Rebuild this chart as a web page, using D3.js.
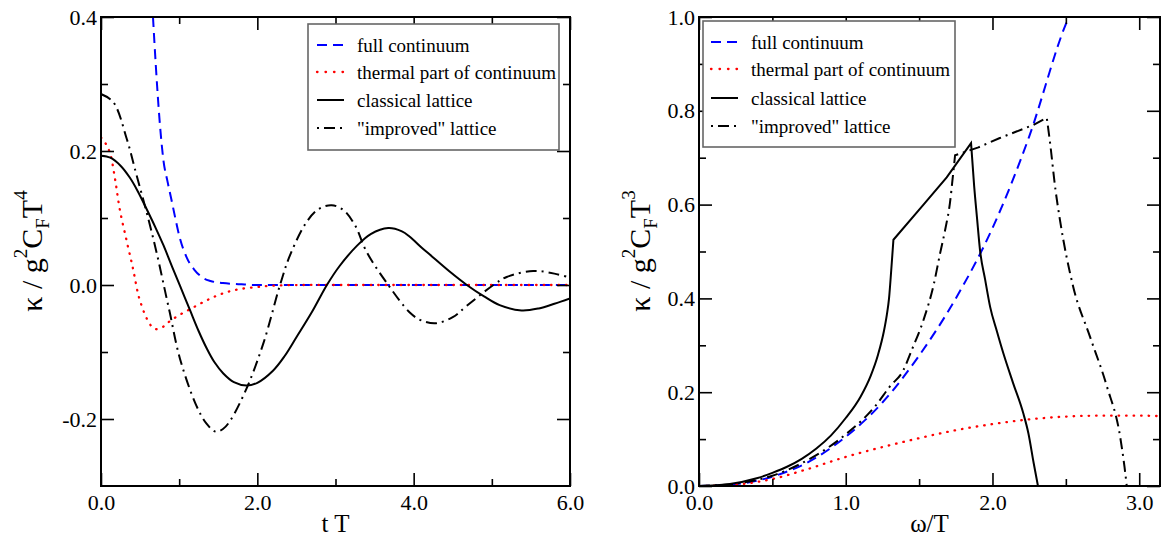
<!DOCTYPE html>
<html>
<head>
<meta charset="utf-8">
<script src="https://cdn.jsdelivr.net/npm/d3@7"></script>
<style>
  html, body { margin: 0; padding: 0; background: #fff; }
  svg { display: block; font-family: "Liberation Serif", "Times New Roman", serif; }
</style>
</head>
<body>
<svg id="chart" width="1162" height="536"></svg>
<script>
// ---------- Left panel: kappa(t) ----------
const leftFullT = [0.665, 0.70, 0.75, 0.80, 0.85, 0.90, 0.95, 1.0, 1.1, 1.2, 1.3, 1.4, 1.56, 1.8, 2.0, 2.5, 6.0];
const leftFullV = [0.40, 0.33, 0.245, 0.185, 0.155, 0.128, 0.10, 0.074, 0.04, 0.022, 0.011, 0.006, 0.003, 0.001, 0.0, 0.0, 0.0];

const leftThermT = [0, 0.05, 0.115, 0.18, 0.24, 0.33, 0.41, 0.47, 0.5, 0.585, 0.65, 0.71, 0.8, 0.88, 1.0, 1.14, 1.3, 1.44, 1.6, 1.78, 2.0, 2.2, 2.6, 3.0, 6.0];
const leftThermV = [0.22, 0.213, 0.197, 0.158, 0.113, 0.065, 0.024, -0.011, -0.024, -0.050, -0.062, -0.066, -0.062, -0.054, -0.045, -0.036, -0.026, -0.018, -0.011, -0.006, -0.003, -0.001, 0.0, 0.0, 0.0];

const leftClassT = [0, 0.12, 0.25, 0.37, 0.47, 0.585, 0.7, 0.8, 0.9, 1.01, 1.14, 1.25, 1.35, 1.45, 1.565, 1.7, 1.86, 2.0, 2.2, 2.35, 2.5, 2.7, 2.89, 3.05, 3.27, 3.45, 3.675, 3.85, 3.95, 4.1, 4.21, 4.46, 4.68, 4.9, 5.1, 5.38, 5.6, 5.8, 6.0];
const leftClassV = [0.193, 0.190, 0.178, 0.160, 0.140, 0.113, 0.085, 0.059, 0.03, -0.001, -0.038, -0.069, -0.094, -0.115, -0.132, -0.145, -0.150, -0.146, -0.128, -0.106, -0.078, -0.040, 0.0, 0.028, 0.058, 0.076, 0.085, 0.080, 0.072, 0.056, 0.045, 0.020, 0.0, -0.017, -0.030, -0.038, -0.035, -0.028, -0.02];

const leftImprT = [0, 0.157, 0.33, 0.457, 0.585, 0.71, 0.84, 0.88, 1.01, 1.22, 1.35, 1.47, 1.56, 1.65, 1.86, 2.08, 2.29, 2.42, 2.63, 2.78, 2.95, 3.1, 3.25, 3.4, 3.675, 3.95, 4.1, 4.29, 4.5, 4.68, 5.02, 5.19, 5.53, 5.8, 6.0];
const leftImprV = [0.285, 0.273, 0.218, 0.163, 0.108, 0.049, -0.02, -0.041, -0.11, -0.18, -0.207, -0.219, -0.215, -0.203, -0.155, -0.086, 0.0, 0.045, 0.094, 0.113, 0.119, 0.112, 0.089, 0.049, 0.0, -0.041, -0.053, -0.057, -0.048, -0.031, 0.0, 0.012, 0.021, 0.017, 0.011];

const leftXTicks = [0, 2, 4, 6];
const leftXMinor = [1, 3, 5];
const leftYTicks = [-0.2, 0.0, 0.2, 0.4];
const leftYMinor = [-0.1, 0.1, 0.3];

// ---------- Right panel: kappa(omega) ----------
const rightFullW = [0, 0.25, 0.5, 0.75, 1.0, 1.25, 1.5, 1.75, 2.0, 2.25, 2.5, 2.52];
const rightFullV = [0, 0.004, 0.02, 0.052, 0.105, 0.178, 0.278, 0.40, 0.55, 0.745, 0.985, 1.0];

const rightThermW = [0, 0.25, 0.5, 0.75, 1.0, 1.25, 1.5, 1.75, 2.0, 2.25, 2.5, 2.75, 3.0, Math.PI];
const rightThermV = [0, 0.003, 0.015, 0.037, 0.062, 0.083, 0.102, 0.119, 0.132, 0.142, 0.148, 0.150, 0.150, 0.149];

const rightClassW = [0, 0.2, 0.4, 0.5, 0.6, 0.7, 0.8, 0.9, 1.0, 1.1, 1.17, 1.22, 1.26, 1.28, 1.295, 1.31, 1.325, 1.53, 1.688, 1.854, 1.875, 1.895, 1.915, 1.95, 1.984, 2.03, 2.074, 2.14, 2.21, 2.245, 2.28, 2.31, Math.PI];
const rightClassV = [0, 0.004, 0.017, 0.028, 0.041, 0.058, 0.08, 0.108, 0.145, 0.19, 0.235, 0.28, 0.33, 0.365, 0.40, 0.46, 0.525, 0.60, 0.658, 0.731, 0.64, 0.57, 0.503, 0.44, 0.382, 0.33, 0.283, 0.22, 0.155, 0.112, 0.05, 0.0, 0.0];
const rightClassBreaks = [1.325, 1.854, 2.31];   // kinks of the lattice curve

const rightImprW = [0, 0.25, 0.5, 0.75, 1.0, 1.2, 1.3, 1.393, 1.45, 1.53, 1.6, 1.643, 1.68, 1.71, 1.73, 1.745, 1.904, 2.05, 2.28, 2.37, 2.39, 2.43, 2.46, 2.55, 2.665, 2.78, 2.87, 2.9, 2.915, Math.PI];
const rightImprV = [0, 0.005, 0.022, 0.057, 0.11, 0.17, 0.212, 0.247, 0.29, 0.354, 0.43, 0.496, 0.55, 0.603, 0.66, 0.705, 0.722, 0.742, 0.77, 0.785, 0.738, 0.63, 0.567, 0.425, 0.318, 0.212, 0.105, 0.04, 0.0, 0.0];
const rightImprBreaks = [1.745, 2.37, 2.915];

const rightXTicks = [0, 1, 2, 3];
const rightXMinor = [0.5, 1.5, 2.5];
const rightYTicks = [0, 0.2, 0.4, 0.6, 0.8, 1.0];
const rightYMinor = [0.1, 0.3, 0.5, 0.7, 0.9];

const legendLabels = ["full continuum", "thermal part of continuum", "classical lattice", "\"improved\" lattice"];

// ---------- styles ----------
const SERIF = "Liberation Serif, Times New Roman, serif";
const styles = [
  { stroke: "#0000ff", dash: "10,6", width: 2, cap: "butt" },
  { stroke: "#ff0000", dash: "0.5,7", width: 2.3, cap: "round" },
  { stroke: "#000000", dash: null, width: 2, cap: "butt" },
  { stroke: "#000000", dash: "11,5,2,5", width: 2, cap: "butt" }
];

const svg = d3.select("#chart");
const fmt = d => d.toFixed(1);

function zip(xs, ys) { return xs.map((x, i) => [x, ys[i]]); }

// path made of pieces: smooth between kinks, straight where the lattice curve is straight
function piecewisePath(data, breaks, curves, x, y) {
  const cuts = [data[0][0], ...breaks, data[data.length - 1][0]];
  let d = "";
  for (let k = 0; k < cuts.length - 1; k++) {
    const seg = data.filter(p => p[0] >= cuts[k] - 1e-9 && p[0] <= cuts[k + 1] + 1e-9);
    const s = d3.line().x(p => x(p[0])).y(p => y(p[1])).curve(curves[k])(seg);
    d += (k === 0) ? s : s.replace(/^M/, "L");
  }
  return d;
}

function panel(cfg) {
  const { x, y, id } = cfg;
  const [x0, x1] = x.range();
  const [y0, y1] = y.range();
  const g = svg.append("g").attr("font-family", SERIF);

  svg.append("clipPath").attr("id", id).append("rect")
    .attr("x", x0).attr("y", y1).attr("width", x1 - x0).attr("height", y0 - y1);

  const plot = g.append("g").attr("clip-path", `url(#${id})`);
  cfg.series.forEach((s, i) => {
    const st = styles[i];
    const d = s.breaks
      ? piecewisePath(s.data, s.breaks, s.curves, x, y)
      : d3.line().x(p => x(p[0])).y(p => y(p[1])).curve(s.curve)(s.data);
    plot.append("path")
      .attr("d", d)
      .attr("fill", "none")
      .attr("stroke", st.stroke)
      .attr("stroke-width", st.width)
      .attr("stroke-dasharray", st.dash)
      .attr("stroke-linecap", st.cap)
      .attr("stroke-linejoin", "miter");
  });

  function styleAxis(sel) {
    sel.attr("font-family", SERIF);
    sel.select(".domain").remove();
    sel.selectAll("line").attr("stroke", "#000").attr("stroke-width", 1.6);
    sel.selectAll("text").attr("font-family", SERIF).attr("font-size", 22).attr("fill", "#000");
  }
  g.append("g").attr("transform", `translate(0,${y0})`)
    .call(d3.axisBottom(x).tickValues(cfg.xTicks).tickSize(-13).tickPadding(8.5).tickFormat(fmt)).call(styleAxis);
  g.append("g").attr("transform", `translate(0,${y0})`)
    .call(d3.axisBottom(x).tickValues(cfg.xMinor).tickSize(-7).tickFormat("")).call(styleAxis);
  g.append("g").attr("transform", `translate(0,${y1})`)
    .call(d3.axisTop(x).tickValues(cfg.xTicks).tickSize(-13).tickFormat("")).call(styleAxis);
  g.append("g").attr("transform", `translate(0,${y1})`)
    .call(d3.axisTop(x).tickValues(cfg.xMinor).tickSize(-7).tickFormat("")).call(styleAxis);
  g.append("g").attr("transform", `translate(${x0},0)`)
    .call(d3.axisLeft(y).tickValues(cfg.yTicks).tickSize(-13).tickPadding(4).tickFormat(fmt)).call(styleAxis);
  g.append("g").attr("transform", `translate(${x0},0)`)
    .call(d3.axisLeft(y).tickValues(cfg.yMinor).tickSize(-7).tickFormat("")).call(styleAxis);
  g.append("g").attr("transform", `translate(${x1},0)`)
    .call(d3.axisRight(y).tickValues(cfg.yTicks).tickSize(-13).tickFormat("")).call(styleAxis);
  g.append("g").attr("transform", `translate(${x1},0)`)
    .call(d3.axisRight(y).tickValues(cfg.yMinor).tickSize(-7).tickFormat("")).call(styleAxis);

  g.append("rect")
    .attr("x", x0).attr("y", y1).attr("width", x1 - x0).attr("height", y0 - y1)
    .attr("fill", "none").attr("stroke", "#000").attr("stroke-width", 2);

  g.append("text")
    .attr("x", (x0 + x1) / 2).attr("y", 532)
    .attr("text-anchor", "middle").attr("font-size", 25).attr("fill", "#000")
    .text(cfg.xTitle);

  const yt = g.append("text")
    .attr("transform", `translate(${cfg.yTitleX},251) rotate(-90)`)
    .attr("text-anchor", "middle").attr("font-size", 30).attr("fill", "#000");
  yt.append("tspan").text("κ / g");
  yt.append("tspan").attr("font-size", 19).attr("dy", -15).text("2");
  yt.append("tspan").attr("dy", 15).text("C");
  yt.append("tspan").attr("font-size", 19).attr("dy", 7).text("F");
  yt.append("tspan").attr("dy", -7).text("T");
  yt.append("tspan").attr("font-size", 19).attr("dy", -15).text(cfg.yPow);

  const L = cfg.legend;
  g.append("rect")
    .attr("x", L.x).attr("y", L.y).attr("width", L.w).attr("height", L.h)
    .attr("fill", "#fff").attr("stroke", "#666").attr("stroke-width", 1.6);
  legendLabels.forEach((lab, i) => {
    const st = styles[i];
    const yy = L.rows[i];
    g.append("line")
      .attr("x1", L.lx).attr("x2", L.lx + 27).attr("y1", yy).attr("y2", yy)
      .attr("stroke", st.stroke).attr("stroke-width", st.width)
      .attr("stroke-dasharray", i === 3 ? "2,5,11,5,2" : (i === 1 ? "0.5,8" : st.dash))
      .attr("stroke-linecap", st.cap);
    g.append("text")
      .attr("x", L.tx).attr("y", yy + 6.5)
      .attr("font-size", 19).attr("fill", "#000")
      .text(lab);
  });
}

panel({
  id: "clipL",
  x: d3.scaleLinear().domain([0, 6]).range([101, 570]),
  y: d3.scaleLinear().domain([-0.3, 0.4]).range([486, 17]),
  xTicks: leftXTicks, xMinor: leftXMinor, yTicks: leftYTicks, yMinor: leftYMinor,
  xTitle: "t T", yTitleX: 42, yPow: "4",
  series: [
    { data: zip(leftFullT, leftFullV), curve: d3.curveMonotoneX },
    { data: zip(leftThermT, leftThermV), curve: d3.curveCatmullRom.alpha(0.5) },
    { data: zip(leftClassT, leftClassV), curve: d3.curveCatmullRom.alpha(0.5) },
    { data: zip(leftImprT, leftImprV), curve: d3.curveCatmullRom.alpha(0.5) }
  ],
  legend: { x: 308, y: 24, w: 251, h: 126, lx: 317, tx: 357, rows: [45, 72, 100, 128] }
});

panel({
  id: "clipR",
  x: d3.scaleLinear().domain([0, Math.PI]).range([699, 1160]),
  y: d3.scaleLinear().domain([0, 1]).range([486, 17]),
  xTicks: rightXTicks, xMinor: rightXMinor, yTicks: rightYTicks, yMinor: rightYMinor,
  xTitle: "ω/T", yTitleX: 650, yPow: "3",
  series: [
    { data: zip(rightFullW, rightFullV), curve: d3.curveMonotoneX },
    { data: zip(rightThermW, rightThermV), curve: d3.curveMonotoneX },
    { data: zip(rightClassW, rightClassV), breaks: rightClassBreaks,
      curves: [d3.curveMonotoneX, d3.curveLinear, d3.curveMonotoneX, d3.curveLinear] },
    { data: zip(rightImprW, rightImprV), breaks: rightImprBreaks,
      curves: [d3.curveMonotoneX, d3.curveLinear, d3.curveMonotoneX, d3.curveLinear] }
  ],
  legend: { x: 703, y: 21, w: 252, h: 126, lx: 711, tx: 751, rows: [42, 69, 98, 126] }
});
</script>
</body>
</html>
